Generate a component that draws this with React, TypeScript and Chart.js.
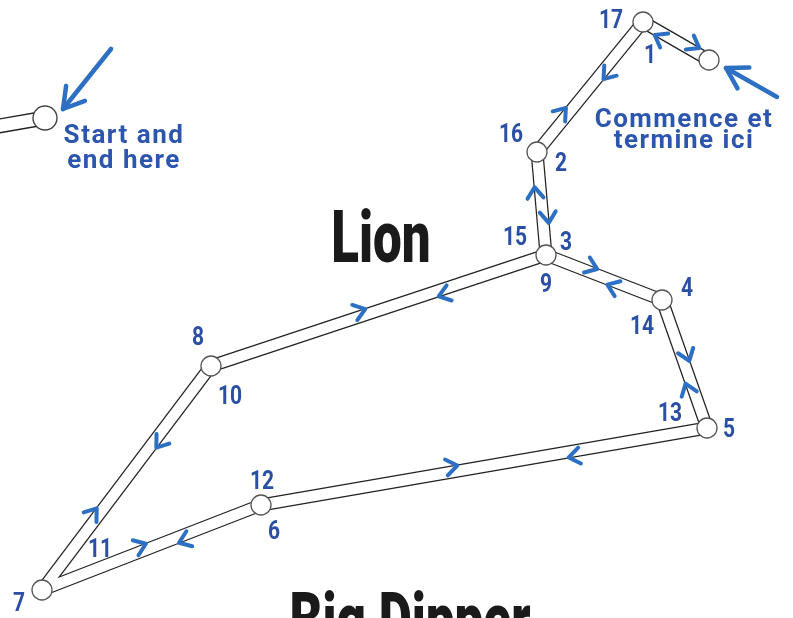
import { useEffect, useRef } from 'react';
import { Chart, registerables } from 'chart.js';

Chart.register(...registerables);

// ---- data (sky-map units, origin at top-left, y grows downward) ----
// stars of the route: 0 = start/end star, then the Lion's stars
const starX = [709, 643, 537, 546, 662, 707, 261, 42, 211];
const starY = [60, 22, 152, 255, 300, 428, 505, 590, 366];

// road segments between stars
const edgeFrom = [0, 1, 2, 3, 4, 5, 6, 7, 8];
const edgeTo = [1, 2, 3, 4, 5, 6, 7, 8, 3];

// direction chevrons: travel from star -> to star, at fraction along the road
const chevFrom = [1, 0, 1, 2, 2, 3, 3, 4, 4, 5, 6, 5, 7, 6, 7, 8, 8, 3];
const chevTo = [0, 1, 2, 1, 3, 2, 4, 3, 5, 4, 5, 6, 6, 7, 8, 7, 3, 8];
const chevT = [0.74, 0.71, 0.38, 0.28, 0.64, 0.61, 0.38, 0.41, 0.45, 0.32, 0.43, 0.3, 0.46, 0.36, 0.33, 0.33, 0.45, 0.31];

// step numbers
const stepLabels = ['1', '2', '3', '4', '5', '6', '7', '8', '9', '10', '11', '12', '13', '14', '15', '16', '17'];
const stepX = [650, 561, 566, 687, 729, 274, 19, 198, 546, 230, 100, 262, 670, 642, 515, 511, 611];
const stepY = [54, 162, 241, 287, 428, 530, 602, 336, 283, 395, 548, 480, 412, 325, 236, 133, 19];

// neighbouring (cut-off) route at the left edge
const trailX = [-10, 45];
const trailY = [127.5, 118];

// callout arrows
const calloutTailX = [111, 777];
const calloutTailY = [49, 97];
const calloutTipX = [63, 726];
const calloutTipY = [109, 68];

// callout notes
const noteLines = [['Start and', 'end here'], ['Commence et', 'termine ici']];
const noteX = [124, 684];
const noteY = [[143, 168], [127, 148]];

// constellation names
const titles = ['Lion', 'Big Dipper'];
const titleX = [381, 410];
const titleY = [262, 644];

const ROAD_DARK = '#222222';
const ARROW_BLUE = '#2d70c3';
const LABEL_BLUE = '#2a4fa5';
const NOTE_BLUE = '#2c56ad';

const overlayPlugin = {
  id: 'routeOverlay',
  afterDatasetsDraw(chart: any) {
    const ctx: CanvasRenderingContext2D = chart.ctx;
    const xs = chart.scales.x;
    const ys = chart.scales.y;
    const px = (v: number) => xs.getPixelForValue(v);
    const py = (v: number) => ys.getPixelForValue(v);
    ctx.save();

    // chevrons
    ctx.strokeStyle = ARROW_BLUE;
    ctx.lineWidth = 4;
    ctx.lineCap = 'round';
    ctx.lineJoin = 'round';
    const off = 5.5;
    const a = 5.5;
    const b = 8;
    for (let k = 0; k < chevFrom.length; k++) {
      const ax = px(starX[chevFrom[k]]);
      const ay = py(starY[chevFrom[k]]);
      const bx = px(starX[chevTo[k]]);
      const by = py(starY[chevTo[k]]);
      const dx = bx - ax;
      const dy = by - ay;
      const len = Math.hypot(dx, dy);
      const ux = dx / len;
      const uy = dy / len;
      const lx = uy;
      const ly = -ux;
      const cx = ax + dx * chevT[k] + lx * off;
      const cy = ay + dy * chevT[k] + ly * off;
      ctx.beginPath();
      ctx.moveTo(cx - ux * a + lx * b, cy - uy * a + ly * b);
      ctx.lineTo(cx + ux * a, cy + uy * a);
      ctx.lineTo(cx - ux * a - lx * b, cy - uy * a - ly * b);
      ctx.stroke();
    }

    // callout arrows
    ctx.lineWidth = 4.5;
    for (let k = 0; k < calloutTailX.length; k++) {
      const tx = px(calloutTailX[k]);
      const ty = py(calloutTailY[k]);
      const hx = px(calloutTipX[k]);
      const hy = py(calloutTipY[k]);
      const dx = hx - tx;
      const dy = hy - ty;
      const len = Math.hypot(dx, dy);
      const ux = dx / len;
      const uy = dy / len;
      const L = 20;
      const W = 12;
      ctx.beginPath();
      ctx.moveTo(tx, ty);
      ctx.lineTo(hx, hy);
      ctx.stroke();
      ctx.beginPath();
      ctx.moveTo(hx - ux * L + uy * W, hy - uy * L - ux * W);
      ctx.lineTo(hx, hy);
      ctx.lineTo(hx - ux * L - uy * W, hy - uy * L + ux * W);
      ctx.stroke();
    }

    const drawText = (text: string, x: number, y: number, font: string, color: string, sx: number, spacing: string) => {
      ctx.save();
      ctx.font = font;
      (ctx as any).letterSpacing = spacing;
      ctx.fillStyle = color;
      ctx.textAlign = 'center';
      ctx.textBaseline = 'alphabetic';
      ctx.translate(x, y);
      ctx.scale(sx, 1);
      ctx.fillText(text, 0, 0);
      ctx.restore();
    };

    // step numbers (centre given; baseline = centre + half cap height)
    const numSize = 25;
    for (let k = 0; k < stepLabels.length; k++) {
      drawText(stepLabels[k], px(stepX[k]), py(stepY[k]) + numSize * 0.355, `bold ${numSize}px Roboto`, LABEL_BLUE, 0.84, '0px');
    }

    // notes
    for (let k = 0; k < noteLines.length; k++) {
      for (let j = 0; j < noteLines[k].length; j++) {
        drawText(noteLines[k][j], px(noteX[k]), py(noteY[k][j]), 'bold 26px Roboto', NOTE_BLUE, 1, '1.5px');
      }
    }

    // titles
    for (let k = 0; k < titles.length; k++) {
      drawText(titles[k], px(titleX[k]), py(titleY[k]), '900 73px Roboto', '#1a1a1a', 0.7, '0px');
    }

    ctx.restore();
  },
};

export default function App() {
  const canvasRef = useRef<HTMLCanvasElement | null>(null);

  useEffect(() => {
    const canvas = canvasRef.current;
    if (!canvas) return;

    const datasets: any[] = [];
    for (let i = 0; i < edgeFrom.length; i++) {
      const pts = [
        { x: starX[edgeFrom[i]], y: starY[edgeFrom[i]] },
        { x: starX[edgeTo[i]], y: starY[edgeTo[i]] },
      ];
      datasets.push({
        data: pts,
        showLine: true,
        pointRadius: 0,
        borderColor: ROAD_DARK,
        borderWidth: 13,
        borderCapStyle: 'butt',
        order: 3,
      });
      datasets.push({
        data: pts,
        showLine: true,
        pointRadius: 0,
        borderColor: '#ffffff',
        borderWidth: 10.5,
        borderCapStyle: 'butt',
        order: 2,
      });
    }
    const trailPts = trailX.map((x, i) => ({ x, y: trailY[i] }));
    datasets.push({ data: trailPts, showLine: true, pointRadius: 0, borderColor: ROAD_DARK, borderWidth: 15, borderCapStyle: 'butt', order: 3 });
    datasets.push({ data: trailPts, showLine: true, pointRadius: 0, borderColor: '#ffffff', borderWidth: 12.4, borderCapStyle: 'butt', order: 2 });
    datasets.push({
      data: starX.map((x, i) => ({ x, y: starY[i] })),
      showLine: false,
      pointRadius: 10,
      pointBackgroundColor: '#ffffff',
      pointBorderColor: '#555555',
      pointBorderWidth: 1.3,
      order: 1,
    });
    datasets.push({
      data: [{ x: trailX[1], y: trailY[1] }],
      showLine: false,
      pointRadius: 12,
      pointBackgroundColor: '#ffffff',
      pointBorderColor: '#444444',
      pointBorderWidth: 1.4,
      order: 1,
    });

    const chart = new Chart(canvas, {
      type: 'scatter',
      data: { datasets },
      options: {
        animation: false,
        responsive: false,
        events: [],
        layout: { padding: 0, autoPadding: false },
        plugins: { legend: { display: false }, tooltip: { enabled: false } },
        scales: {
          x: { type: 'linear', min: 0, max: 793, display: false },
          y: { type: 'linear', min: 0, max: 618, reverse: true, display: false },
        },
      },
      plugins: [overlayPlugin],
    } as any);

    return () => chart.destroy();
  }, []);

  return (
    <div style={{ position: 'fixed', left: 0, top: 0, width: 793, height: 618, background: '#ffffff' }}>
      <canvas ref={canvasRef} width={793} height={618} style={{ display: 'block', width: 793, height: 618 }} />
    </div>
  );
}
